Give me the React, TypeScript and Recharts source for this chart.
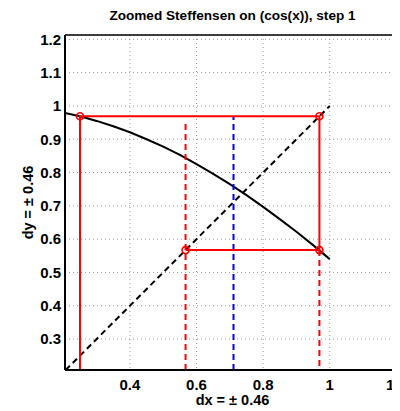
import React from 'react';
import { ComposedChart, Line, Scatter, XAxis, YAxis, CartesianGrid, ReferenceLine } from 'recharts';

const X_DOMAIN: [number, number] = [0.205, 1.211];
const Y_DOMAIN: [number, number] = [0.207, 1.213];
const X_TICKS = [0.4, 0.6, 0.8, 1, 1.2];
const Y_TICKS = [0.3, 0.4, 0.5, 0.6, 0.7, 0.8, 0.9, 1, 1.1, 1.2];

const cosCurve = [
  { x: 0.205, y: 0.979 }, { x: 0.25, y: 0.969 }, { x: 0.3, y: 0.955 }, { x: 0.35, y: 0.939 },
  { x: 0.4, y: 0.921 }, { x: 0.45, y: 0.9 }, { x: 0.5, y: 0.878 }, { x: 0.55, y: 0.853 },
  { x: 0.6, y: 0.825 }, { x: 0.65, y: 0.796 }, { x: 0.7, y: 0.765 }, { x: 0.75, y: 0.732 },
  { x: 0.8, y: 0.697 }, { x: 0.85, y: 0.66 }, { x: 0.9, y: 0.622 }, { x: 0.95, y: 0.582 },
  { x: 1.0, y: 0.54 },
];
const diagonal = [{ x: 0.207, y: 0.207 }, { x: 1.0, y: 1.0 }];
const cobweb = [
  { x: 0.25, y: 0.207 }, { x: 0.25, y: 0.969 }, { x: 0.969, y: 0.969 },
  { x: 0.969, y: 0.567 }, { x: 0.567, y: 0.567 },
];
const markers = [
  { x: 0.25, y: 0.969 }, { x: 0.969, y: 0.969 }, { x: 0.969, y: 0.567 }, { x: 0.567, y: 0.567 },
];
const dashX2 = [{ x: 0.567, y: 0.207 }, { x: 0.567, y: 0.958 }];
const dashX1 = [{ x: 0.969, y: 0.567 }, { x: 0.969, y: 0.207 }];
const steffensen = [{ x: 0.711, y: 0.207 }, { x: 0.711, y: 0.969 }];

const FONT = '"Liberation Sans", Arial, Helvetica, sans-serif';
const tickStyle = { fontFamily: FONT, fontSize: 15, fontWeight: 'bold' as const, fill: '#000' };

const Circle = (props: any) => {
  const { cx, cy } = props;
  return <circle cx={cx} cy={cy} r={3.5} fill="none" stroke="#ff0000" strokeWidth={1.6} />;
};

const YLabel = (props: any) => {
  const vb = props.viewBox || { x: 0, y: 27, width: 57, height: 335 };
  const cx = vb.x + 20;
  const cy = vb.y + vb.height / 2;
  return (
    <text x={cx} y={cy} transform={`rotate(-90, ${cx}, ${cy})`} textAnchor="middle" dominantBaseline="central"
      style={{ fontFamily: FONT, fontSize: 14.5, fontWeight: 'bold' }} fill="#000">dy = ± 0.46</text>
  );
};

const XLabel = (props: any) => {
  const vb = props.viewBox || { x: 57, y: 362, width: 335, height: 41 };
  const cx = vb.x + vb.width / 2;
  const cy = vb.y + 30;
  return (
    <text x={cx} y={cy} textAnchor="middle" dominantBaseline="central"
      style={{ fontFamily: FONT, fontSize: 14.5, fontWeight: 'bold' }} fill="#000">dx = ± 0.46</text>
  );
};

export default function App() {
  return (
    <div style={{ position: 'relative', width: 392, height: 403, overflow: 'hidden' }}>
      <div style={{ position: 'absolute', left: 57, width: 335, top: 0, height: 16, lineHeight: '16px', textAlign: 'center',
        fontFamily: FONT, fontSize: 13.6, fontWeight: 'bold', color: '#000', zIndex: 2 }}>
        Zoomed Steffensen on (cos(x)), step 1
      </div>
      <ComposedChart width={440} height={403} margin={{ top: 27, right: 48, bottom: 0, left: 0 }}>
        <CartesianGrid stroke="#999" strokeDasharray="1 3" />
        <XAxis dataKey="x" type="number" domain={X_DOMAIN} ticks={X_TICKS} allowDataOverflow
          height={41} tickSize={0} tickMargin={9} tick={tickStyle} stroke="#000" strokeWidth={2}
          label={<XLabel />} />
        <YAxis dataKey="y" type="number" domain={Y_DOMAIN} ticks={Y_TICKS} allowDataOverflow
          width={57} tickSize={0} tickMargin={4} tick={tickStyle} stroke="#000" strokeWidth={2}
          label={<YLabel />} />
        <ReferenceLine y={Y_DOMAIN[1]} stroke="#000" strokeWidth={1.5} />
        <Line data={diagonal} dataKey="y" stroke="#000" strokeWidth={2} strokeDasharray="6 4" dot={false} isAnimationActive={false} />
        <Line data={cosCurve} dataKey="y" stroke="#000" strokeWidth={2} dot={false} isAnimationActive={false} />
        <Line data={dashX2} dataKey="y" stroke="#ff0000" strokeWidth={2} strokeDasharray="6 4" dot={false} isAnimationActive={false} />
        <Line data={dashX1} dataKey="y" stroke="#ff0000" strokeWidth={2} strokeDasharray="6 4" dot={false} isAnimationActive={false} />
        <Line data={steffensen} dataKey="y" stroke="#0000ff" strokeWidth={2} strokeDasharray="6 4" dot={false} isAnimationActive={false} />
        <Line data={cobweb} dataKey="y" stroke="#ff0000" strokeWidth={2} dot={false} isAnimationActive={false} />
        <Scatter data={markers} dataKey="y" shape={<Circle />} isAnimationActive={false} />
      </ComposedChart>
    </div>
  );
}
